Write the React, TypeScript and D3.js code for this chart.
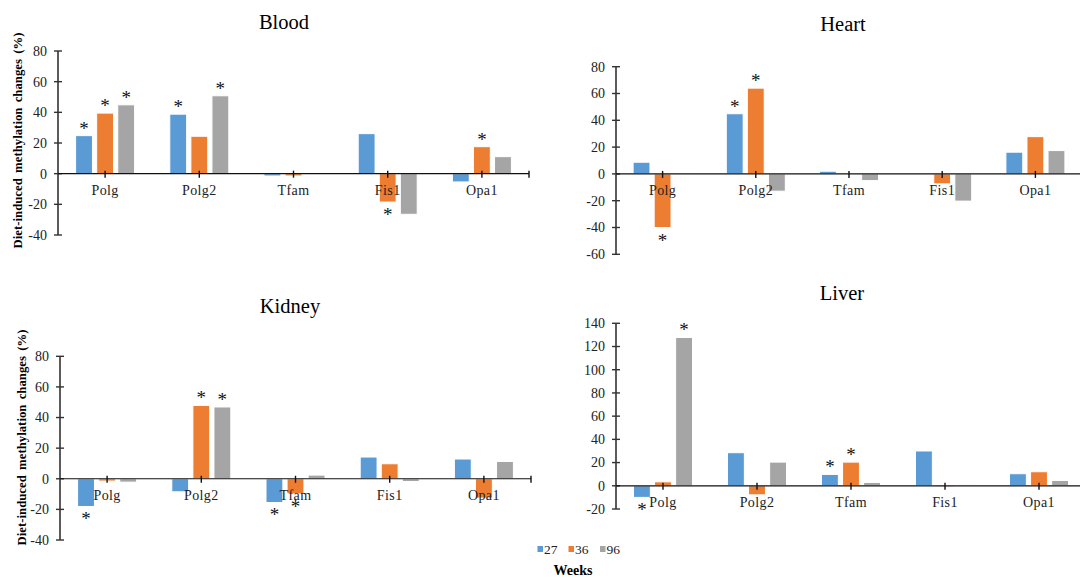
import { scaleBand, scaleLinear, range } from "d3";

const categories = ["Polg", "Polg2", "Tfam", "Fis1", "Opa1"];
const weeks = ["27", "36", "96"];
const colors = ["#5B9BD5", "#ED7D31", "#A5A5A5"];

// Blood
const blood27 = [24.8, 38.8, -1.5, 26.1, -5.4];
const blood36 = [39.5, 24.4, -1.5, -18.5, 17.6];
const blood96 = [44.9, 50.8, -0.2, -26.5, 11.1];
const bloodSig27 = [1, 1, 0, 0, 0];
const bloodSig36 = [1, 0, 0, 1, 1];
const bloodSig96 = [1, 1, 0, 0, 0];

// Heart
const heart27 = [8.7, 44.9, 2.0, 0, 16.2];
const heart36 = [-40, 64, 0, -7.4, 27.8];
const heart96 = [-0.5, -12.9, -5.0, -20.3, 17.4];
const heartSig27 = [0, 1, 0, 0, 0];
const heartSig36 = [1, 1, 0, 0, 0];
const heartSig96 = [0, 0, 0, 0, 0];

// Kidney
const kidney27 = [-18.1, -8.5, -15.5, 14.2, 12.9];
const kidney36 = [-1.5, 47.9, -9.8, 9.8, -12.6];
const kidney96 = [-2.2, 46.9, 2.4, -1.8, 11.3];
const kidneySig27 = [1, 0, 1, 0, 0];
const kidneySig36 = [0, 1, 1, 0, 0];
const kidneySig96 = [0, 1, 0, 0, 0];

// Liver
const liver27 = [-10, 28.5, 9.8, 30, 10.4];
const liver36 = [3.4, -7.8, 20.4, -1, 12.1];
const liver96 = [127.8, 20.4, 2.9, 0.8, 4.6];
const liverSig27 = [1, 0, 1, 0, 0];
const liverSig36 = [0, 0, 1, 0, 0];
const liverSig96 = [1, 0, 0, 0, 0];

const yTitle = "Diet-induced methylation changes (%)";
const serif = "'Liberation Serif', 'Times New Roman', serif";

type PanelProps = {
  title: string;
  titleX: number;
  titleY: number;
  series: number[][];
  sig: number[][];
  domain: [number, number];
  yRange: [number, number]; // pixel of domain[0], domain[1]
  xRange: [number, number];
  yLabel?: { x: number; y: number };
};

function Panel({ title, titleX, titleY, series, sig, domain, yRange, xRange, yLabel }: PanelProps) {
  const y = scaleLinear().domain(domain).range(yRange);
  const x = scaleBand<string>().domain(categories).range(xRange).padding(0);
  const half = 29.5;
  const inner = scaleBand<string>().domain(weeks).range([-half, half]).paddingInner(0.2);
  const ticks = range(domain[0], domain[1] + 1, 20);
  const x0 = xRange[0];
  const zero = y(0);

  return (
    <g>
      <text x={titleX} y={titleY} textAnchor="middle" fontSize={20.5} fontFamily={serif} fill="#000">
        {title}
      </text>
      {yLabel && (
        <text
          transform={`translate(${yLabel.x},${yLabel.y}) rotate(-90)`}
          textAnchor="middle"
          fontSize={12.8}
          fontWeight="bold"
          fontFamily={serif}
          wordSpacing={2}
          fill="#000"
        >
          {yTitle}
        </text>
      )}
      {/* bars */}
      {categories.map((c, i) => {
        const cx = (x(c) ?? 0) + x.bandwidth() / 2;
        return weeks.map((w, s) => {
          const v = series[s][i];
          const bx = cx + (inner(w) ?? 0);
          const top = Math.min(y(v), zero);
          const h = Math.abs(y(v) - zero);
          return (
            <rect
              key={c + w}
              x={bx}
              y={top}
              width={inner.bandwidth()}
              height={h}
              fill={colors[s]}
              stroke="#fff"
              strokeWidth={1}
            />
          );
        });
      })}
      {/* y axis */}
      <line x1={x0} x2={x0} y1={y(domain[0])} y2={y(domain[1])} stroke="#333" strokeWidth={1.6} />
      {ticks.map((t) => (
        <g key={t}>
          <line x1={x0 - 4} x2={x0 + 4} y1={y(t)} y2={y(t)} stroke="#333" strokeWidth={1.4} />
          <text x={x0 - 11} y={y(t)} dy="0.35em" textAnchor="end" fontSize={14} fontFamily={serif} fill="#222">
            {t}
          </text>
        </g>
      ))}
      {/* zero axis */}
      <line x1={x0} x2={xRange[1]} y1={zero} y2={zero} stroke="#111" strokeWidth={1.2} />
      {categories.map((c) => {
        const cx = (x(c) ?? 0) + x.bandwidth() / 2;
        return <line key={c} x1={cx} x2={cx} y1={zero - 3} y2={zero + 4} stroke="#111" strokeWidth={1.4} />;
      })}
      <line x1={xRange[1]} x2={xRange[1]} y1={zero - 3} y2={zero + 4} stroke="#111" strokeWidth={1.4} />
      {categories.map((c) => {
        const cx = (x(c) ?? 0) + x.bandwidth() / 2;
        return (
          <text key={c} x={cx} y={zero + 21} textAnchor="middle" fontSize={14} fontFamily={serif} fill="#222" letterSpacing={0.4}>
            {c}
          </text>
        );
      })}
      {/* significance stars */}
      {categories.map((c, i) => {
        const cx = (x(c) ?? 0) + x.bandwidth() / 2;
        return weeks.map((w, s) => {
          if (!sig[s][i]) return null;
          const v = series[s][i];
          const bx = cx + (inner(w) ?? 0) + inner.bandwidth() / 2;
          const yy = v >= 0 ? y(v) - 1 : y(v) + 19;
          return (
            <text key={c + w} x={bx} y={yy} textAnchor="middle" fontSize={19} fontFamily={serif} fill="#111">
              *
            </text>
          );
        });
      })}
    </g>
  );
}

export default function App() {
  return (
    <svg
      width={1080}
      height={578}
      style={{ position: "absolute", left: 0, top: 0, background: "#fff" }}
    >
      <rect width={1080} height={578} fill="#fff" />
      <Panel
        title="Blood"
        titleX={284}
        titleY={29}
        series={[blood27, blood36, blood96]}
        sig={[bloodSig27, bloodSig36, bloodSig96]}
        domain={[-40, 80]}
        yRange={[235, 51]}
        xRange={[58, 529]}
        yLabel={{ x: 22, y: 140.5 }}
      />
      <Panel
        title="Heart"
        titleX={843}
        titleY={31}
        series={[heart27, heart36, heart96]}
        sig={[heartSig27, heartSig36, heartSig96]}
        domain={[-60, 80]}
        yRange={[254.3, 66.7]}
        xRange={[616, 1082]}
      />
      <Panel
        title="Kidney"
        titleX={290}
        titleY={313}
        series={[kidney27, kidney36, kidney96]}
        sig={[kidneySig27, kidneySig36, kidneySig96]}
        domain={[-40, 80]}
        yRange={[540, 356.3]}
        xRange={[60, 531]}
        yLabel={{ x: 25.5, y: 437.5 }}
      />
      <Panel
        title="Liver"
        titleX={842}
        titleY={300}
        series={[liver27, liver36, liver96]}
        sig={[liverSig27, liverSig36, liverSig96]}
        domain={[-20, 140]}
        yRange={[509, 323.3]}
        xRange={[616, 1086]}
      />
      {/* legend */}
      {weeks.map((w, i) => {
        const lx = [537.5, 568.5, 600][i];
        return (
          <g key={w}>
            <rect x={lx} y={546} width={5.5} height={6} fill={colors[i]} />
            <text x={lx + 6.5} y={553.5} fontSize={13.5} fontFamily={serif} fill="#222">
              {w}
            </text>
          </g>
        );
      })}
      <text x={573} y={575} textAnchor="middle" fontSize={14} fontWeight="bold" fontFamily={serif} fill="#000">
        Weeks
      </text>
    </svg>
  );
}
